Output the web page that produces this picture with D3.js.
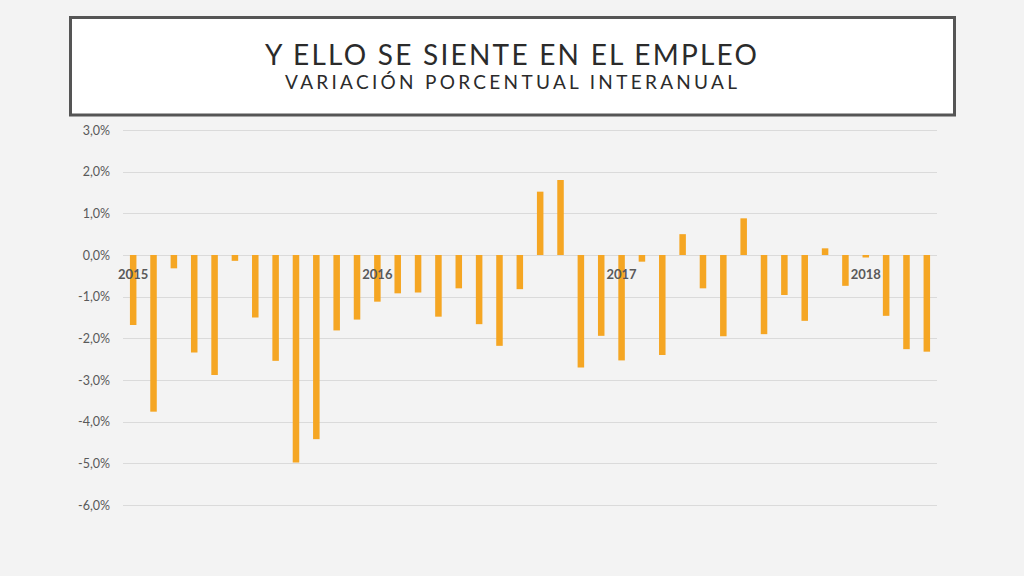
<!DOCTYPE html>
<html>
<head>
<meta charset="utf-8">
<script src="https://cdn.jsdelivr.net/npm/d3@7"></script>
<style>
  html, body { margin: 0; padding: 0; background: #f3f3f3; }
  svg { display: block; }
</style>
</head>
<body>
<svg id="chart" width="1024" height="576"></svg>
<script>
const title = "Y ELLO SE SIENTE EN EL EMPLEO";
const subtitle = "VARIACIÓN PORCENTUAL INTERANUAL";

const months = [
  "2015-01","2015-02","2015-03","2015-04","2015-05","2015-06","2015-07","2015-08","2015-09","2015-10","2015-11","2015-12",
  "2016-01","2016-02","2016-03","2016-04","2016-05","2016-06","2016-07","2016-08","2016-09","2016-10","2016-11","2016-12",
  "2017-01","2017-02","2017-03","2017-04","2017-05","2017-06","2017-07","2017-08","2017-09","2017-10","2017-11","2017-12",
  "2018-01","2018-02","2018-03","2018-04"
];
const values = [
  -1.68, -3.76, -0.32, -2.34, -2.88, -0.14, -1.50, -2.54, -4.98, -4.42, -1.81, -1.55,
  -1.12, -0.92, -0.90, -1.48, -0.80, -1.66, -2.18, -0.82, 1.52, 1.80, -2.70, -1.94,
  -2.53, -0.16, -2.40, 0.50, -0.80, -1.95, 0.88, -1.90, -0.96, -1.58, 0.16, -0.74,
  -0.06, -1.46, -2.26, -2.32
];
const yearLabels = ["2015","2016","2017","2018"];
const yTicks = [3, 2, 1, 0, -1, -2, -3, -4, -5, -6];

const svg = d3.select("#chart");

// Title box
svg.append("rect")
  .attr("x", 70.5).attr("y", 17.5)
  .attr("width", 884).attr("height", 97.5)
  .attr("fill", "#ffffff")
  .attr("stroke", "#555555")
  .attr("stroke-width", 3);

svg.append("text")
  .attr("x", 511).attr("y", 65)
  .attr("text-anchor", "middle")
  .attr("font-family", "Lato, 'Open Sans', sans-serif")
  .attr("font-weight", 400)
  .attr("font-size", 28)
  .attr("fill", "#2b2b2b")
  .attr("textLength", 492)
  .attr("lengthAdjust", "spacing")
  .text(title);

svg.append("text")
  .attr("x", 511).attr("y", 89)
  .attr("text-anchor", "middle")
  .attr("font-family", "Lato, 'Open Sans', sans-serif")
  .attr("font-weight", 400)
  .attr("font-size", 19)
  .attr("fill", "#2b2b2b")
  .attr("textLength", 452)
  .attr("lengthAdjust", "spacing")
  .text(subtitle);

// Chart area
const left = 123, right = 937;
const y = d3.scaleLinear().domain([-6, 3]).range([505, 130]);
const x = d3.scaleBand().domain(months).range([left, right]).paddingInner(0.68).paddingOuter(0.34);

// Gridlines
svg.append("g")
  .selectAll("line")
  .data(yTicks)
  .join("line")
  .attr("x1", left).attr("x2", right)
  .attr("y1", d => Math.round(y(d)) + 0.5)
  .attr("y2", d => Math.round(y(d)) + 0.5)
  .attr("stroke", "#dadada")
  .attr("stroke-width", 1);

// Y axis labels
const fmt = d => d.toFixed(1).replace(".", ",") + "%";
svg.append("g")
  .selectAll("text")
  .data(yTicks)
  .join("text")
  .attr("x", 110)
  .attr("y", d => y(d) + 4.5)
  .attr("text-anchor", "end")
  .attr("font-family", "Lato, 'Open Sans', sans-serif")
  .attr("font-size", 12.5)
  .attr("fill", "#595959")
  .text(fmt);

// Bars
svg.append("g")
  .selectAll("rect")
  .data(values)
  .join("rect")
  .attr("x", (d, i) => x(months[i]))
  .attr("width", x.bandwidth())
  .attr("y", d => y(Math.max(0, d)))
  .attr("height", d => Math.abs(y(d) - y(0)))
  .attr("fill", "#f5a623");

// Year labels at January
svg.append("g")
  .selectAll("text")
  .data(yearLabels)
  .join("text")
  .attr("x", d => x(d + "-01") + x.bandwidth() / 2)
  .attr("y", y(0) + 24)
  .attr("text-anchor", "middle")
  .attr("font-family", "Lato, 'Open Sans', sans-serif")
  .attr("font-weight", "bold")
  .attr("font-size", 13)
  .attr("fill", "#595959")
  .text(d => d);
</script>
</body>
</html>
